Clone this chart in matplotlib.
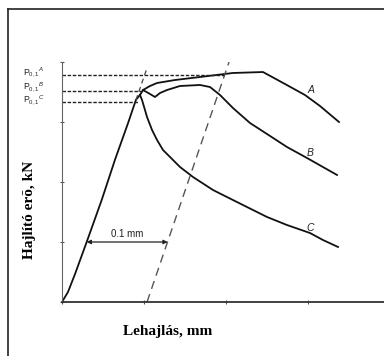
import matplotlib
matplotlib.use('Agg')
import matplotlib.pyplot as plt
from matplotlib.lines import Line2D

plt.rcParams['mathtext.fontset'] = 'custom'
plt.rcParams['mathtext.rm'] = 'Liberation Sans'
plt.rcParams['mathtext.it'] = 'Liberation Sans:italic'

# rugalmas szakasz (közös)
rug_x = [0.0, 0.0073, 0.0159, 0.0301, 0.0484, 0.0646, 0.0805, 0.0902, 0.0951]
rug_y = [0.0, 0.167, 0.467, 1.0, 1.70, 2.37, 2.98, 3.37, 3.45]

# A görbe
a_x = [0.0951, 0.0988, 0.1073, 0.1159, 0.1378, 0.1683, 0.2085, 0.2451, 0.2720, 0.2963, 0.3146, 0.3378]
a_y = [3.45, 3.533, 3.60, 3.65, 3.70, 3.75, 3.817, 3.833, 3.633, 3.45, 3.267, 3.0]

# B görbe
b_x = [0.0988, 0.1073, 0.1134, 0.1195, 0.1280, 0.1439, 0.1683, 0.1805, 0.1927, 0.2085,
       0.2293, 0.2500, 0.2744, 0.2988, 0.3354]
b_y = [3.533, 3.467, 3.417, 3.483, 3.533, 3.60, 3.617, 3.583, 3.45, 3.233,
       2.983, 2.80, 2.583, 2.40, 2.117]

# C görbe
c_x = [0.0951, 0.0976, 0.1037, 0.1098, 0.1159, 0.1232, 0.1317, 0.1439, 0.1598, 0.1841,
       0.1963, 0.2256, 0.2500, 0.2744, 0.3024, 0.3183, 0.3366]
c_y = [3.45, 3.367, 3.083, 2.867, 2.70, 2.533, 2.417, 2.25, 2.083, 1.867,
       1.783, 1.583, 1.417, 1.283, 1.15, 1.033, 0.917]

# szaggatott segédvonalak
ext_x = [0.0902, 0.1037]
ext_y = [3.367, 3.90]
eltolt_x = [0.1037, 0.2037]
eltolt_y = [0.0, 4.0]
p_szint = {'A': 3.79, 'B': 3.51, 'C': 3.33}
p_veg = {'A': 0.198, 'B': 0.099, 'C': 0.093}
p_cimke_y = {'A': 3.84, 'B': 3.58, 'C': 3.36}
cimke_hely = {'A': (0.3037, 3.53), 'B': (0.3024, 2.483), 'C': (0.3024, 1.233)}

fig = plt.figure(figsize=(3.84, 3.56), dpi=100)
ax = fig.add_axes([62 / 384, 1 - 302 / 356, 1 - 62 / 384, 240 / 356])
ax.set_xlim(0, 322 / 820)
ax.set_ylim(0, 4)

ax.plot(rug_x, rug_y, color='#111111', lw=1.3)
ax.plot(a_x, a_y, color='#111111', lw=1.3)
ax.plot(b_x, b_y, color='#111111', lw=1.3)
ax.plot(c_x, c_y, color='#111111', lw=1.3)

ax.plot(ext_x, ext_y, color='#444444', lw=0.9, ls=(0, (4, 3)))
ax.plot(eltolt_x, eltolt_y, color='#555555', lw=1.0, ls=(0, (6, 4)))
for k in ['A', 'B', 'C']:
    ax.plot([0, p_veg[k]], [p_szint[k], p_szint[k]], color='#222222', lw=1.0, ls=(0, (2.5, 1.2)))
    ax.text(-0.047, p_cimke_y[k], r'$\mathrm{P}_{\mathrm{0,1}}{}^{\mathit{' + k + '}}$',
            fontsize=6.2, ha='left', va='center', color='#222222', clip_on=False)
    ax.text(cimke_hely[k][0], cimke_hely[k][1], k, fontsize=7.5, style='italic',
            family='Liberation Sans', ha='center', va='center', color='#222222')

ax.annotate('', xy=(0.0301, 1.0), xytext=(0.1289, 1.0),
            arrowprops=dict(arrowstyle='<|-|>', color='#222222', lw=0.9,
                            mutation_scale=6, shrinkA=0, shrinkB=0))
ax.text(0.079, 1.05, '0.1 mm', fontsize=7, family='Liberation Sans',
        ha='center', va='bottom', color='#222222')

ax.spines['top'].set_visible(False)
ax.spines['right'].set_visible(False)
ax.spines['left'].set_color('#666666')
ax.spines['left'].set_linewidth(0.8)
ax.spines['bottom'].set_color('#333333')
ax.spines['bottom'].set_linewidth(1.3)
ax.set_xticks([0, 0.1, 0.2, 0.3])
ax.set_yticks([0, 1, 2, 3, 4])
ax.tick_params(direction='inout', length=3, width=0.8, color='#555555',
               labelbottom=False, labelleft=False)

fig.text(30 / 384, 1 - 210 / 356, 'Hajlító erõ, kN', rotation=90, fontsize=11,
         fontweight='bold', family='Liberation Serif', ha='center', va='center')
fig.text(168 / 384, 1 - 332 / 356, 'Lehajlás, mm', fontsize=11,
         fontweight='bold', family='Liberation Serif', ha='center', va='center')

# keret
fig.add_artist(Line2D([7.5 / 384, 7.5 / 384], [0, 1 - 8.5 / 356], color='#222222', lw=1.2))
fig.add_artist(Line2D([7.5 / 384, 1], [1 - 8.5 / 356, 1 - 8.5 / 356], color='#222222', lw=1.2))

fig.savefig('out.png', dpi=100)
